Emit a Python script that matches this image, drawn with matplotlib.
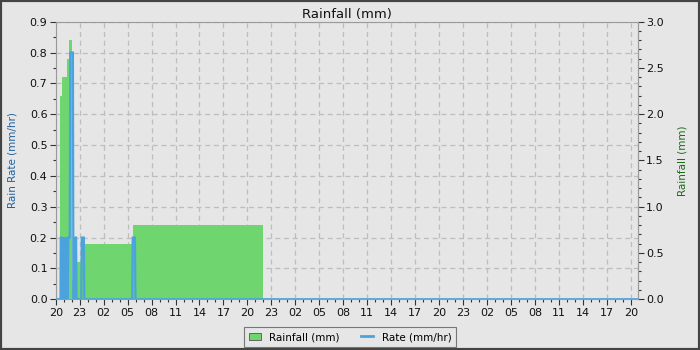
import matplotlib
matplotlib.use("Agg")
import matplotlib.pyplot as plt
import numpy as np
from matplotlib.patches import Patch, Rectangle
from matplotlib.lines import Line2D
from matplotlib.ticker import MultipleLocator

# ---- data (hours since 20:00 on day 1) ----
rain_start = [0.54, 0.79, 1.41, 1.66, 2.04, 2.66, 3.16, 9.66]
rain_end   = [0.79, 1.41, 1.66, 2.04, 2.66, 3.16, 9.60, 26.0]
rain_mm    = [2.2, 2.4, 2.6, 2.8, 0.2, 0.4, 0.6, 0.8]

rate_t = [0, 0.60, 0.63, 0.70, 0.74, 0.80, 0.85, 0.91, 0.96, 1.02, 1.07, 1.13,
          1.18, 1.24, 1.29, 1.35, 1.40, 1.46, 1.51, 1.57, 1.62, 1.75, 1.82,
          2.15, 2.20, 2.25, 2.30, 2.35, 2.40, 2.45, 2.50, 2.55, 2.60,
          3.20, 3.26, 3.52, 3.58, 9.58, 9.64, 9.92, 9.98, 72.9]
rate_v = [0, 0, 0.2, 0.2, 0, 0.2, 0, 0.2, 0, 0.2, 0, 0.2,
          0, 0.2, 0, 0.2, 0, 0.2, 0, 0.2, 0.2, 0.2, 0.8,
          0.8, 0.2, 0, 0.2, 0, 0.2, 0, 0.2, 0.2, 0,
          0, 0.2, 0.2, 0, 0, 0.2, 0.2, 0, 0]

x_tick_labels = ["20", "23", "02", "05", "08", "11", "14", "17",
                 "20", "23", "02", "05", "08", "11", "14", "17",
                 "20", "23", "02", "05", "08", "11", "14", "17", "20"]

RATE_MAX = 0.9
RAIN_MAX = 3.0

BG = "#e6e6e6"
GREEN = "#6fd66f"
BLUE = "#4aa3dc"

fig = plt.figure(figsize=(7, 3.5), dpi=100, facecolor=BG)
ax = fig.add_axes([0.0796, 0.145, 0.9114 - 0.0796, 0.938 - 0.145])
ax.set_facecolor(BG)

scale = RATE_MAX / RAIN_MAX
widths = [e - s for s, e in zip(rain_start, rain_end)]
ax.bar(rain_start, [m * scale for m in rain_mm], width=widths, align="edge",
       color=GREEN, linewidth=0, zorder=2)
ax.plot(rate_t, rate_v, color=BLUE, linewidth=1.6, zorder=3,
        solid_joinstyle="miter")

ax.set_xlim(0, 72.9)
ax.set_ylim(0, RATE_MAX)
ax.set_xticks(np.arange(0, 73, 3))
ax.set_xticklabels(x_tick_labels)
ax.xaxis.set_minor_locator(MultipleLocator(1))
ax.set_yticks(np.arange(0, 0.91, 0.1))
ax.set_yticklabels([f"{v:.1f}" for v in np.arange(0, 0.91, 0.1)])
ax.yaxis.set_minor_locator(MultipleLocator(0.05))
ax.grid(True, which="major", linestyle=(0, (4, 3)), color="#bdbdbd",
        linewidth=0.9, zorder=0)
ax.set_axisbelow(True)

sec = ax.secondary_yaxis("right", functions=(lambda y: y / scale, lambda y: y * scale))
sec.set_yticks(np.arange(0, 3.01, 0.5))
sec.set_yticklabels([f"{v:.1f}" for v in np.arange(0, 3.01, 0.5)])
sec.yaxis.set_minor_locator(MultipleLocator(0.1))

for a in (ax, sec):
    a.tick_params(which="major", length=4, width=0.8, color="#333333",
                  labelsize=8, pad=2, labelcolor="#111111")
    a.tick_params(which="minor", length=2.5, width=0.8, color="#333333")
for s in ax.spines.values():
    s.set_color("#9a9a9a")
sec.spines["right"].set_color("#9a9a9a")

ax.set_ylabel("Rain Rate (mm/hr)", color="#1f5f9f", fontsize=7.5, labelpad=9)
sec.set_ylabel("Rainfall (mm)", color="#1a6b1a", fontsize=7.5, labelpad=10)
ax.set_title("Rainfall (mm)", fontsize=9.5, pad=3, color="#111111")

handles = [Patch(facecolor=GREEN, edgecolor="#555555", linewidth=0.6),
           Line2D([0], [0], color=BLUE, linewidth=2)]
leg = fig.legend(handles, ["Rainfall (mm)", "Rate (mm/hr)"], loc="center",
                 bbox_to_anchor=(0.5, 0.037), ncol=2, fontsize=7.5,
                 frameon=True, fancybox=False, edgecolor="#777777",
                 facecolor=BG, framealpha=1, handlelength=1.2,
                 handleheight=0.7, columnspacing=2.0, borderpad=0.45)
leg.get_frame().set_linewidth(0.8)

fig.patches.append(Rectangle((0, 0), 1, 1, transform=fig.transFigure,
                             fill=False, edgecolor="#444444", linewidth=3))

fig.savefig("out.png", dpi=100, facecolor=BG)
